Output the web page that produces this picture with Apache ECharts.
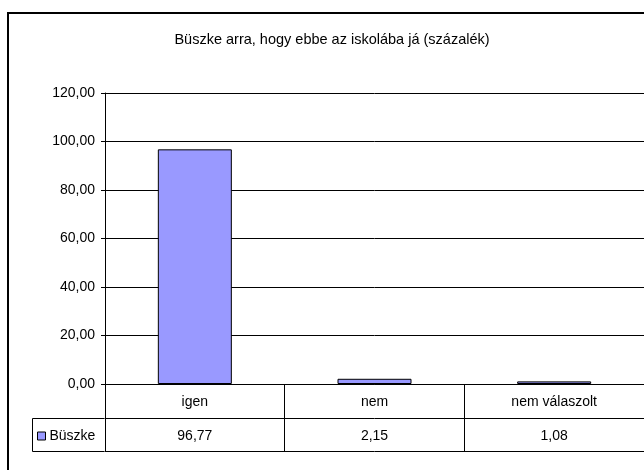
<!DOCTYPE html>
<html>
<head>
<meta charset="utf-8">
<script src="https://cdn.jsdelivr.net/npm/echarts@6/dist/echarts.min.js"></script>
<style>
html,body{margin:0;padding:0;background:#fff;}
#main{width:644px;height:470px;}
</style>
</head>
<body>
<div id="main"></div>
<script>
var titleText = 'Büszke arra, hogy ebbe az iskolába já (százalék)';
var seriesName = 'Büszke';
var categories = ['igen', 'nem', 'nem válaszolt'];
var values = [96.77, 2.15, 1.08];
var yMin = 0, yMax = 120, yStep = 20;

function fmt(v) { return v.toFixed(2).replace('.', ','); }

var FONT = 'Liberation Sans, Arial, sans-serif';
var chart = echarts.init(document.getElementById('main'), null, {renderer: 'canvas'});

var option = {
  animation: false,
  backgroundColor: '#fff',
  textStyle: {fontFamily: FONT},
  title: {
    text: titleText,
    left: 327, top: 27, textAlign: 'center',
    textStyle: {fontFamily: FONT, fontSize: 14.5, fontWeight: 'normal', color: '#000'}
  },
  legend: {
    data: [seriesName],
    left: 37, top: 429, padding: 0,
    icon: 'rect', itemWidth: 8, itemHeight: 8, itemGap: 4,
    textStyle: {fontFamily: FONT, fontSize: 14, color: '#000', padding: [0,0,0,-1]},
    itemStyle: {borderColor: '#000', borderWidth: 1},
    selectedMode: false
  },
  grid: {left: 105, top: 93, width: 543, height: 291, containLabel: false},
  xAxis: [
    {
      type: 'category', data: categories, position: 'bottom',
      axisLine: {show: true, lineStyle: {color: '#000', width: 1}},
      axisTick: {show: true, length: 67, lineStyle: {color: '#000', width: 1}},
      axisLabel: {margin: 11, fontFamily: FONT, fontSize: 14, color: '#000'},
      splitLine: {show: false}
    },
    {
      type: 'category', data: categories, position: 'bottom', offset: 34,
      axisLine: {show: true, lineStyle: {color: '#000', width: 1}},
      axisTick: {show: false},
      axisLabel: {margin: 11, fontFamily: FONT, fontSize: 14, color: '#000',
        formatter: function (v, i) { return fmt(values[i]); }},
      splitLine: {show: false}
    },
    {
      type: 'category', data: categories, position: 'bottom', offset: 67,
      axisLine: {show: true, lineStyle: {color: '#000', width: 1}},
      axisTick: {show: false},
      axisLabel: {show: false},
      splitLine: {show: false}
    }
  ],
  yAxis: {
    type: 'value', min: yMin, max: yMax, interval: yStep,
    axisLine: {show: true, lineStyle: {color: '#000', width: 1}},
    axisTick: {show: true, length: 4, lineStyle: {color: '#000'}},
    axisLabel: {margin: 10, fontFamily: FONT, fontSize: 14, color: '#000', formatter: fmt},
    splitLine: {show: true, lineStyle: {color: '#000', width: 1}}
  },
  series: [{
    name: seriesName, type: 'bar', data: values, barWidth: 74,
    itemStyle: {color: '#9999FF', borderColor: '#000', borderWidth: 1}
  }]
};
chart.setOption(option);

// legend-column cell borders of the data table and the outer chart frame
var y0 = chart.convertToPixel({yAxisIndex: 0}, yMin);
var xAx = chart.convertToPixel({xAxisIndex: 0}, 0) - 90.5;
var r1 = Math.round(y0) + 34 + 0.5, r2 = Math.round(y0) + 67 + 0.5;
var tl = 32.5;
chart.setOption({
  graphic: [
    {type: 'line', shape: {x1: tl, y1: r1, x2: xAx, y2: r1}, style: {stroke: '#000', lineWidth: 1}},
    {type: 'line', shape: {x1: tl, y1: r2, x2: xAx, y2: r2}, style: {stroke: '#000', lineWidth: 1}},
    {type: 'line', shape: {x1: tl, y1: r1, x2: tl, y2: r2}, style: {stroke: '#000', lineWidth: 1}},
    {type: 'rect', shape: {x: 8, y: 13, width: 700, height: 500}, style: {fill: 'none', stroke: '#000', lineWidth: 2}}
  ]
});
</script>
</body>
</html>
